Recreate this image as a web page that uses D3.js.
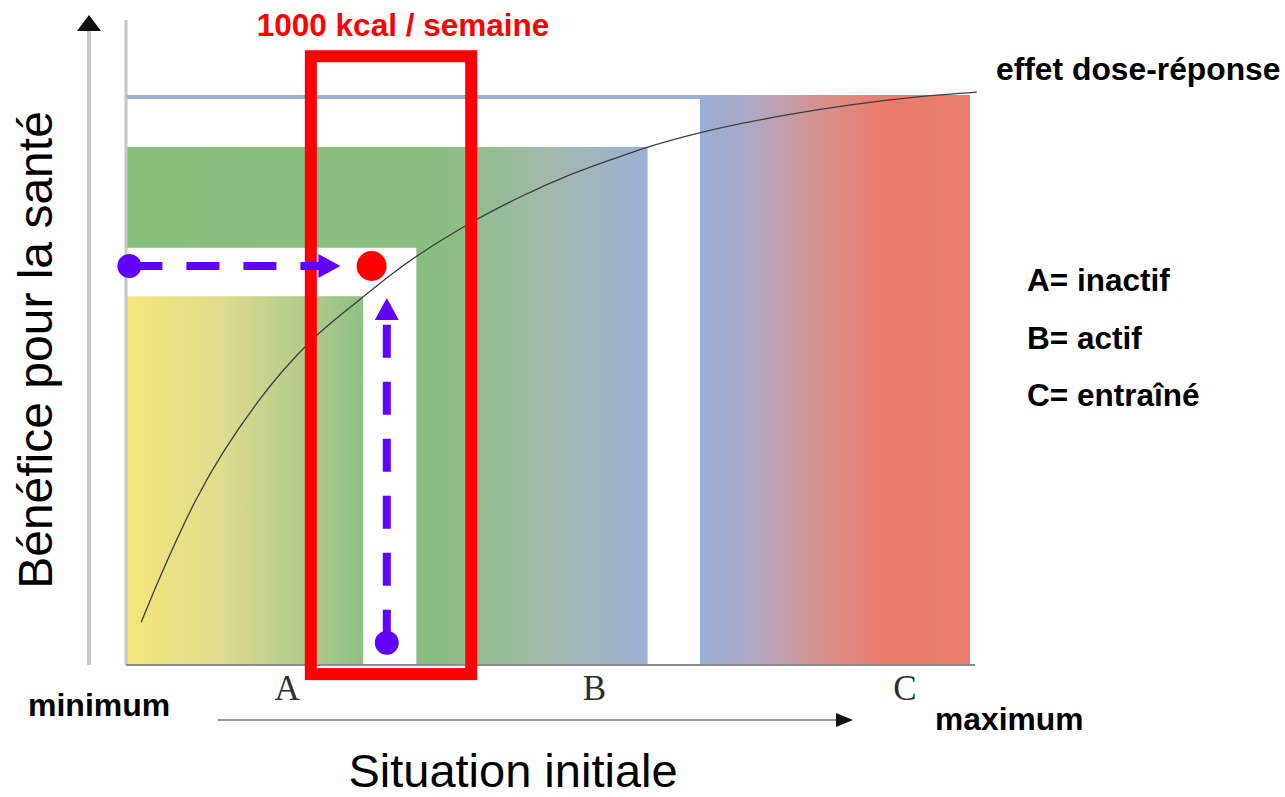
<!DOCTYPE html>
<html>
<head>
<meta charset="utf-8">
<script src="https://cdn.jsdelivr.net/npm/d3@7"></script>
<style>
body { margin: 0; background: #fff; }
svg { display: block; font-family: "Liberation Sans", Arial, sans-serif; }
</style>
</head>
<body>
<div id="chart"></div>
<script>
// zones, in percent of the "situation initiale" / "bénéfice" ranges
const zoneNames = ["A", "B", "C"]
const zoneLegend = ["A= inactif", "B= actif", "C= entraîné"]
const zoneEnd = [28.1, 61.8, 100]
const zoneTop = [64.7, 90.9, 100]
const zoneLabelX = [19.1, 55.5, 92.3]
const haloEnd = [34.4, 68.0]
const haloTop = [73.2, 99.3]

const gradOffsets = [[0, 0.4, 0.75, 1], [0, 0.6, 0.8, 1], [0, 0.2, 0.45, 0.68, 1]]
const gradColors = [
    ["#f4e67a", "#dedc8e", "#b3cb8d", "#8fc084"],
    ["#86bf7c", "#8abe80", "#a2b9aa", "#9db0d4"],
    ["#9aaed6", "#b0a9c4", "#d8918e", "#ec7b6b", "#e97e6f"]
]

// dose-response curve
const curveX = [1.8, 4.0, 8.3, 15.8, 21.8, 27.6, 32.5, 40.4, 46.7, 52.3, 57.4, 61.9, 68.3, 78.3, 86.1, 94.1, 100.8]
const curveY = [7.5, 15.3, 29.0, 46.5, 56.7, 64.0, 69.7, 77.2, 82.1, 85.8, 88.6, 90.9, 93.5, 96.5, 98.3, 99.7, 100.5]

// 1000 kcal / semaine band and the point reached
const kcalBand = [21.9, 40.9]
const kcalBandY = [-1.6, 106.8]
const kcalPoint = [29.1, 70.0]
const arrowFromLeft = [0.4, 25.4]   // x start, x tip at y = kcalPoint[1]
const arrowFromBottom = [3.9, 64.4] // y start, y tip
const arrowBottomX = 30.9

const W = 1285, H = 797
const purple = "#6200ff"

const svg = d3.select("#chart").append("svg")
    .attr("width", W)
    .attr("height", H)

const x = d3.scaleLinear().domain([0, 100]).range([126, 970])
const y = d3.scaleLinear().domain([0, 100]).range([665, 95])

const defs = svg.append("defs")
zoneNames.forEach(function(z, i) {
    let x1 = i == 2 ? x(haloEnd[1]) : x(0)
    let g = defs.append("linearGradient")
        .attr("id", "grad" + z)
        .attr("gradientUnits", "userSpaceOnUse")
        .attr("x1", x1).attr("x2", x(zoneEnd[i]))
        .attr("y1", 0).attr("y2", 0)
    gradOffsets[i].forEach(function(o, j) {
        g.append("stop").attr("offset", o).attr("stop-color", gradColors[i][j])
    })
})

// zones from back to front, each with a white margin round the next one
for (let i = 2; i >= 0; i--) {
    svg.append("rect")
        .attr("x", x(0))
        .attr("y", y(zoneTop[i]))
        .attr("width", x(zoneEnd[i]) - x(0))
        .attr("height", y(0) - y(zoneTop[i]))
        .attr("fill", "url(#grad" + zoneNames[i] + ")")
    if (i > 0) {
        svg.append("rect")
            .attr("x", x(0))
            .attr("y", y(haloTop[i - 1]))
            .attr("width", x(haloEnd[i - 1]) - x(0))
            .attr("height", y(0) - y(haloTop[i - 1]))
            .attr("fill", "#fff")
    }
}

// frame lines
svg.append("line")
    .attr("x1", x(0)).attr("x2", x(0))
    .attr("y1", 20).attr("y2", y(0))
    .attr("stroke", "#c6c6c6").attr("stroke-width", 3)
svg.append("line")
    .attr("x1", x(0)).attr("x2", x(100) + 5)
    .attr("y1", y(0)).attr("y2", y(0))
    .attr("stroke", "#8c8c8c").attr("stroke-width", 2)

// outer y arrow
svg.append("line")
    .attr("x1", 89).attr("x2", 89)
    .attr("y1", y(0)).attr("y2", 28)
    .attr("stroke", "#c9c9c9").attr("stroke-width", 4)
svg.append("path")
    .attr("d", "M89,15 L101,31 L77,31 Z")
    .attr("fill", "#111")

// bottom x arrow
svg.append("line")
    .attr("x1", 218).attr("x2", 840)
    .attr("y1", 720).attr("y2", 720)
    .attr("stroke", "#9a9a9a").attr("stroke-width", 2)
svg.append("path")
    .attr("d", "M853,720 L836,713 L836,727 Z")
    .attr("fill", "#111")

// curve
let pts = curveX.map(function(d, i) { return [d, curveY[i]] })
let line = d3.line()
    .x(function(d) { return x(d[0]) })
    .y(function(d) { return y(d[1]) })
    .curve(d3.curveMonotoneX)
svg.append("path")
    .datum(pts)
    .attr("d", line)
    .attr("fill", "none")
    .attr("stroke", "#3d3d3d")
    .attr("stroke-width", 1.3)

// kcal band
svg.append("rect")
    .attr("x", x(kcalBand[0]))
    .attr("y", y(kcalBandY[1]))
    .attr("width", x(kcalBand[1]) - x(kcalBand[0]))
    .attr("height", y(kcalBandY[0]) - y(kcalBandY[1]))
    .attr("fill", "none")
    .attr("stroke", "#ff0000")
    .attr("stroke-width", 12)

// purple arrows
let hy = y(kcalPoint[1])
let hTip = x(arrowFromLeft[1])
svg.append("line")
    .attr("x1", x(arrowFromLeft[0])).attr("x2", hTip - 20)
    .attr("y1", hy).attr("y2", hy)
    .attr("stroke", purple).attr("stroke-width", 8)
    .attr("stroke-dasharray", "33,24")
svg.append("path")
    .attr("d", "M" + hTip + "," + hy + " L" + (hTip - 22) + "," + (hy - 12) + " L" + (hTip - 22) + "," + (hy + 12) + " Z")
    .attr("fill", purple)
svg.append("circle")
    .attr("cx", x(arrowFromLeft[0])).attr("cy", hy).attr("r", 12)
    .attr("fill", purple)

let vx = x(arrowBottomX)
let vTip = y(arrowFromBottom[1])
svg.append("line")
    .attr("x1", vx).attr("x2", vx)
    .attr("y1", y(arrowFromBottom[0])).attr("y2", vTip + 20)
    .attr("stroke", purple).attr("stroke-width", 8)
    .attr("stroke-dasharray", "33,24")
svg.append("path")
    .attr("d", "M" + vx + "," + vTip + " L" + (vx - 12) + "," + (vTip + 22) + " L" + (vx + 12) + "," + (vTip + 22) + " Z")
    .attr("fill", purple)
svg.append("circle")
    .attr("cx", vx).attr("cy", y(arrowFromBottom[0])).attr("r", 12)
    .attr("fill", purple)

svg.append("circle")
    .attr("cx", x(kcalPoint[0])).attr("cy", hy).attr("r", 15)
    .attr("fill", "#ff0000")

// texts
svg.append("text")
    .attr("x", 403).attr("y", 36)
    .attr("text-anchor", "middle")
    .style("font-size", "31.5px").style("font-weight", "bold")
    .attr("fill", "#ff0000")
    .text("1000 kcal / semaine")

svg.append("text")
    .attr("x", 996).attr("y", 80)
    .style("font-size", "31.8px").style("font-weight", "bold")
    .text("effet dose-réponse")

svg.selectAll(".legend")
    .data(zoneLegend)
    .enter().append("text")
    .attr("class", "legend")
    .attr("x", 1027)
    .attr("y", function(d, i) { return 291 + i * 57.5 })
    .style("font-size", "31.5px").style("font-weight", "bold")
    .text(function(d) { return d })

svg.selectAll(".zone")
    .data(zoneNames)
    .enter().append("text")
    .attr("class", "zone")
    .attr("x", function(d, i) { return x(zoneLabelX[i]) })
    .attr("y", 700)
    .attr("text-anchor", "middle")
    .style("font-family", "'Liberation Serif', 'Times New Roman', serif")
    .style("font-size", "35px")
    .attr("fill", "#2e2e2e")
    .text(function(d) { return d })

svg.append("text")
    .attr("x", 28).attr("y", 716)
    .style("font-size", "32px").style("font-weight", "bold")
    .text("minimum")
svg.append("text")
    .attr("x", 935).attr("y", 730)
    .style("font-size", "31.8px").style("font-weight", "bold")
    .text("maximum")

svg.append("text")
    .attr("x", 513).attr("y", 787)
    .attr("text-anchor", "middle")
    .style("font-size", "47px")
    .text("Situation initiale")

svg.append("text")
    .attr("transform", "translate(52,350) rotate(-90)")
    .attr("text-anchor", "middle")
    .style("font-size", "48px")
    .text("Bénéfice pour la santé")
</script>
</body>
</html>
